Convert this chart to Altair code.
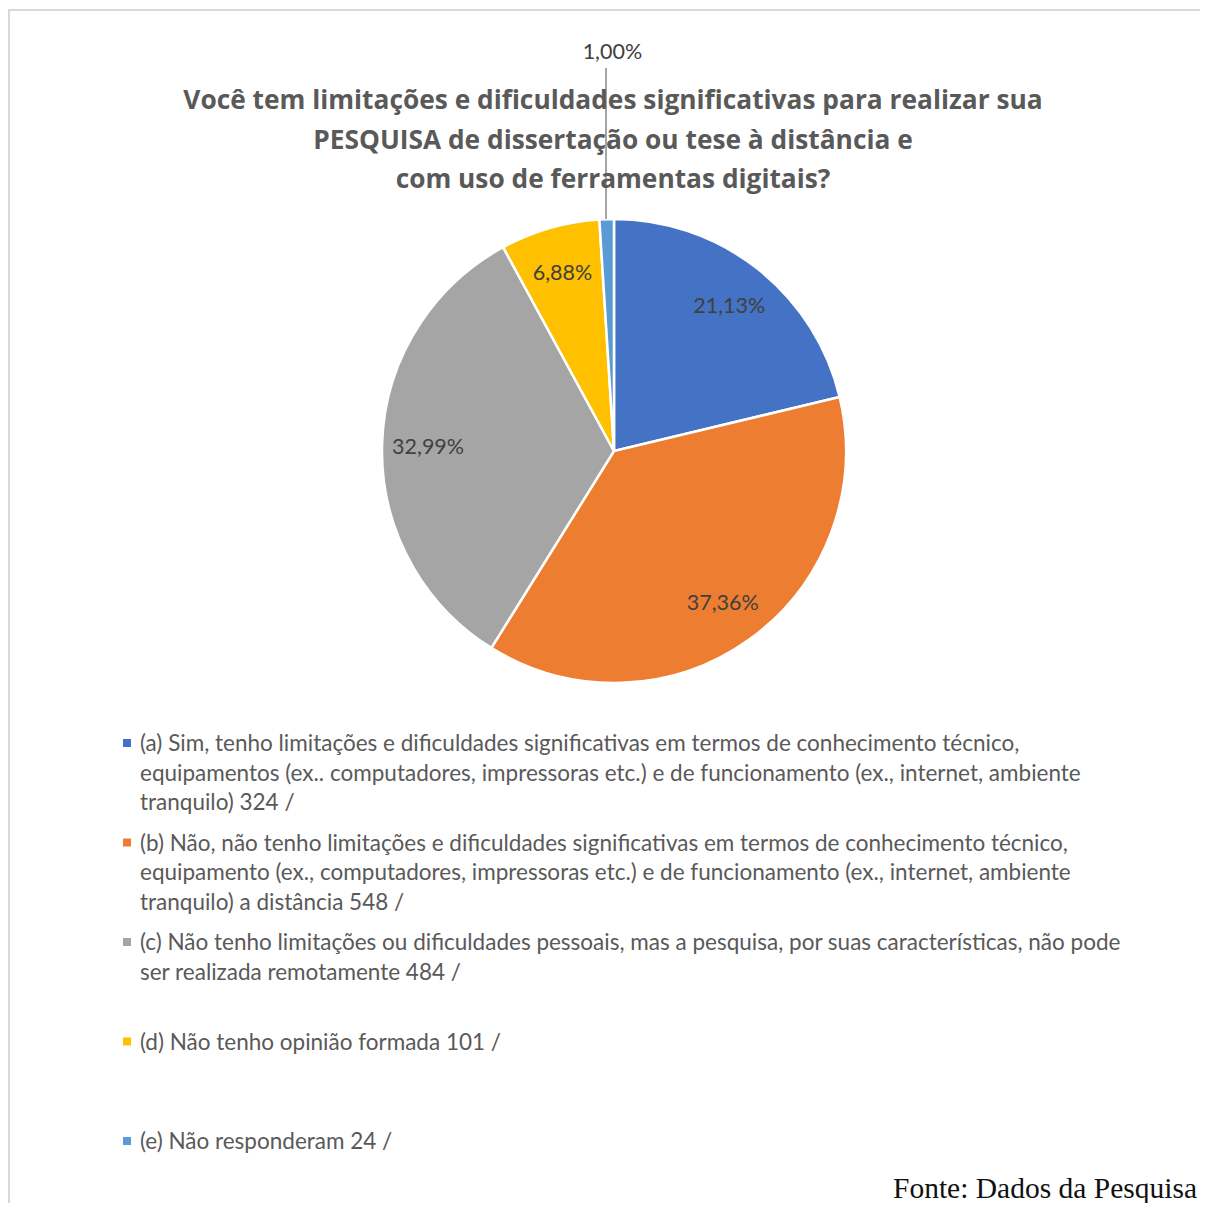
import altair as alt
import pandas as pd

# ---- data ----
categories = ["(a)", "(b)", "(c)", "(d)", "(e)"]
percent = [21.13, 37.36, 32.99, 6.88, 1.00]
pct_labels = ["21,13%", "37,36%", "32,99%", "6,88%", "1,00%"]
counts = [324, 548, 484, 101, 24]
colors = ["#4472C4", "#ED7D31", "#A5A5A5", "#FFC000", "#5B9BD5"]

legend_texts = [
    "(a) Sim, tenho limitações e dificuldades significativas em termos de conhecimento técnico,\n"
    "equipamentos (ex.. computadores, impressoras etc.) e de funcionamento (ex., internet, ambiente\n"
    "tranquilo) 324 /",
    "(b) Não, não tenho limitações e dificuldades significativas em termos de conhecimento técnico,\n"
    "equipamento (ex., computadores, impressoras etc.) e de funcionamento (ex., internet, ambiente\n"
    "tranquilo) a distância 548 /",
    "(c) Não tenho limitações ou dificuldades pessoais, mas a pesquisa, por suas características, não pode\n"
    "ser realizada remotamente 484 /",
    "(d) Não tenho opinião formada 101 /",
    "(e) Não responderam 24 /",
]

title_text = ("Você tem limitações e dificuldades significativas para realizar sua\n"
              "PESQUISA de dissertação ou tese à distância e\n"
              "com uso de ferramentas digitais?")
source_text = "Fonte: Dados da Pesquisa"

W, H = 1192, 1195
CX, CY = 606, 443
SANS = "Lato"

pie_df = pd.DataFrame({
    "idx": list(range(len(categories))),
    "cat": categories,
    "value": percent,
    "inside": [l if i < 4 else "" for i, l in enumerate(pct_labels)],
    "outside": ["" if i < 4 else l for i, l in enumerate(pct_labels)],
})
leg_df = pd.DataFrame({
    "idx": list(range(len(categories))),
    "cat": categories,
    "text": legend_texts,
})

color_scale = alt.Scale(domain=categories, range=colors)

base_pie = alt.Chart(pie_df)
theta = alt.Theta("value:Q", stack=True)
order = alt.Order("idx:Q")

arcs = base_pie.mark_arc(outerRadius=232, stroke="white", strokeWidth=2.5).encode(
    theta=theta, order=order,
    color=alt.Color("cat:N", scale=color_scale, legend=None),
    x=alt.value(CX), y=alt.value(CY),
)

inside_labels = base_pie.mark_text(
    radius=186, dy=2, font=SANS, fontSize=21.5, color="#404040", align="center", baseline="middle"
).encode(theta=theta, order=order, text="inside:N", x=alt.value(CX), y=alt.value(CY))

outside_label = base_pie.mark_text(
    radius=398, dx=11, font=SANS, fontSize=21.5, color="#404040", align="center", baseline="middle"
).encode(theta=theta, order=order, text="outside:N", x=alt.value(CX), y=alt.value(CY))

leader = alt.Chart(pd.DataFrame({"k": [0]})).mark_rule(color="#A6A6A6", strokeWidth=2).encode(
    x=alt.value(598), y=alt.value(60), y2=alt.value(211)
)

title = alt.Chart(pd.DataFrame({"t": [title_text]})).mark_text(
    font="Open Sans", fontSize=26.3, fontWeight="bold", color="#595959", align="center",
    baseline="alphabetic", lineBreak="\n", lineHeight=39.5,
).encode(text="t:N", x=alt.value(605), y=alt.value(101))

ypos = alt.Y("idx:Q", scale=alt.Scale(domain=[0, 4], range=[735, 1133]), axis=None)

leg_squares = alt.Chart(leg_df).mark_square(size=64, opacity=1).encode(
    x=alt.value(119), y=ypos,
    color=alt.Color("cat:N", scale=color_scale, legend=None),
)
leg_text = alt.Chart(leg_df).mark_text(
    font=SANS, fontSize=22.5, color="#595959", align="left", baseline="alphabetic",
    lineBreak="\n", lineHeight=29.5, dy=8,
).encode(x=alt.value(132), y=ypos, text="text:N")

source = alt.Chart(pd.DataFrame({"t": [source_text]})).mark_text(
    font="Liberation Serif", fontSize=29.5, color="#111111", align="right", baseline="alphabetic",
).encode(text="t:N", x=alt.value(1189), y=alt.value(1190))

border_top = alt.Chart(pd.DataFrame({"k": [0]})).mark_rule(color="#D9D9D9", strokeWidth=2).encode(
    x=alt.value(0), x2=alt.value(W), y=alt.value(2)
)
border_left = alt.Chart(pd.DataFrame({"k": [0]})).mark_rule(color="#D9D9D9", strokeWidth=2).encode(
    x=alt.value(1), y=alt.value(1), y2=alt.value(H)
)

chart = alt.layer(
    border_top, border_left, arcs, inside_labels, outside_label, leader, title,
    leg_squares, leg_text, source,
).properties(
    width=W, height=H, padding=0, autosize=alt.AutoSizeParams(type="none"),
    background="white",
).configure_view(stroke=None)

chart.save("out.html", embed_options={"renderer": "svg", "actions": False})
